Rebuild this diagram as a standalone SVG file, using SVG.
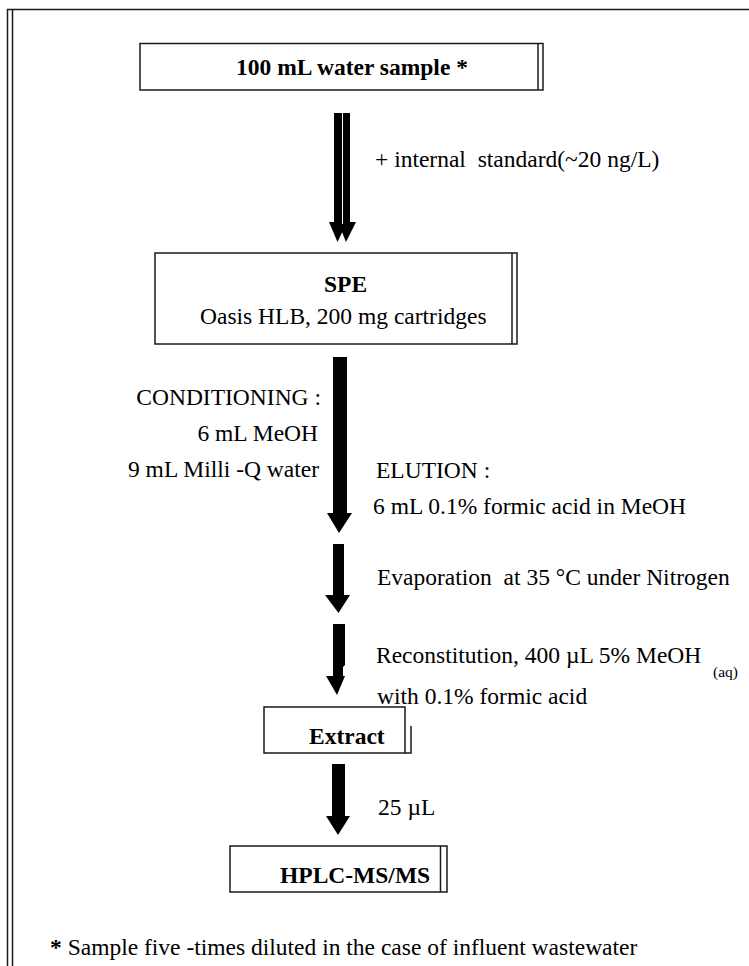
<svg xmlns="http://www.w3.org/2000/svg" width="749" height="966" viewBox="0 0 749 966">
<style>
  text { font-family: "Liberation Serif", "Times New Roman", serif; font-size: 23.5px; fill: #000; white-space: pre; }
  .b { font-weight: bold; }
  .box { fill: #fff; stroke: #1a1a1a; stroke-width: 1.5; }
  .ln { stroke: #1a1a1a; stroke-width: 1.5; fill: none; }
  .arr { fill: #000; stroke: none; }
</style>
<rect width="749" height="966" fill="#fff"/>
<g id="frame">
  <line class="ln" x1="7" y1="9.5" x2="749" y2="9.5" stroke-width="2"/>
  <line class="ln" x1="7.5" y1="9" x2="7.5" y2="966"/>
  <line class="ln" x1="12.5" y1="9" x2="12.5" y2="966"/>
</g>
<g id="connectors">
  <polygon class="arr" points="334,113 342,113 342,222 347,222 337.5,242 329,222 334,222"/>
  <polygon class="arr" points="343,113 350,113 350,222 356,222 346,242 338,222 343,222"/>
  <line x1="342.5" y1="113" x2="342.5" y2="224" stroke="#fff" stroke-width="1"/>
  <polygon class="arr" points="333,357 347,357 347,513 352,513 339,533 327,513 333,513"/>
  <polygon class="arr" points="333,544 344,544 344,595 350,595 338.5,613 325,595 333,595"/>
  <polygon class="arr" points="333,624 345,624 345,665 343,667 343,676 345,676 337,695 326,676 333,676"/>
  <polygon class="arr" points="332,764 345,764 345,816 350,816 338,835 326,816 332,816"/>
</g>
<g id="labels">
  <text x="375" y="167">+ internal  standard(~20 ng/L)</text>
  <text x="321" y="405" text-anchor="end">CONDITIONING :</text>
  <text x="318" y="441" text-anchor="end">6 mL MeOH</text>
  <text x="319" y="477" text-anchor="end">9 mL Milli -Q water</text>
  <text x="376" y="478">ELUTION :</text>
  <text x="373" y="514">6 mL 0.1% formic acid in MeOH</text>
  <text x="377" y="585">Evaporation  at 35 °C under Nitrogen</text>
  <text x="376" y="663">Reconstitution, 400 µL 5% MeOH</text>
  <text x="713" y="677" style="font-size:15.5px">(aq)</text>
  <text x="377" y="704">with 0.1% formic acid</text>
  <text x="378" y="815">25 µL</text>
</g>
<g id="node-sample">
  <rect class="box" x="140" y="43.5" width="403" height="46.5"/>
  <line class="ln" x1="538" y1="43.5" x2="538" y2="90"/>
  <text class="b" x="236" y="75">100 mL water sample *</text>
</g>
<g id="node-spe">
  <rect class="box" x="155" y="253" width="362" height="91"/>
  <line class="ln" x1="512" y1="253" x2="512" y2="344"/>
  <text class="b" x="324" y="292">SPE</text>
  <text x="200" y="324">Oasis HLB, 200 mg cartridges</text>
</g>
<g id="node-extract">
  <rect class="box" x="264" y="707" width="141" height="46"/>
  <polyline class="ln" points="411,726 411,753 405,753"/>
  <text class="b" x="309" y="744">Extract</text>
</g>
<g id="node-hplc">
  <rect class="box" x="230" y="846" width="217" height="46"/>
  <line class="ln" x1="440.5" y1="846" x2="440.5" y2="892"/>
  <text class="b" x="280" y="883">HPLC-MS/MS</text>
</g>
<g id="footnote">
  <text x="50" y="955"><tspan class="b">*</tspan> Sample five -times diluted in the case of influent wastewater</text>
</g>
</svg>
